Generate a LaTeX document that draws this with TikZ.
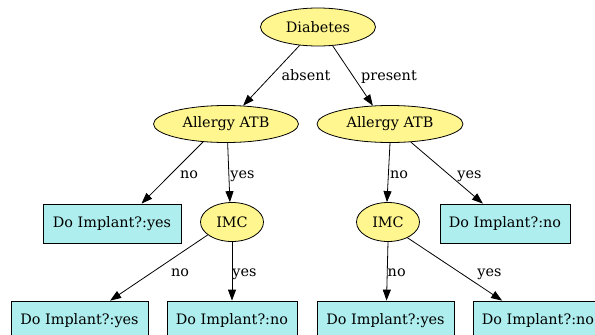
\documentclass[tikz,border=0pt]{standalone}
\usepackage{fontspec}
\setmainfont{DejaVu Serif}
\usetikzlibrary{shapes.geometric,arrows.meta}
\definecolor{khaki}{HTML}{FFF68F}
\definecolor{paleturq}{HTML}{AFEEEE}
\tikzset{
  test/.style={ellipse, draw=black, line width=0.8pt, fill=khaki, inner sep=0pt},
  leaf/.style={rectangle, draw=black, line width=0.8pt, fill=paleturq, inner sep=0pt,
               minimum height=39pt},
  link/.style={draw=black, line width=0.8pt, -{Triangle[length=11pt,width=8pt]}},
  elabel/.style={anchor=base, inner sep=0pt},
}
\begin{document}
\begin{tikzpicture}[x=1pt,y=1pt,font=\fontsize{14.4}{16}\selectfont]
\useasboundingbox (0,0) rectangle (595,-335);
\clip (0,0) rectangle (595,-335);

% decision nodes
\node[test, minimum width=115pt, minimum height=38pt] (diab) at (318,-27) {Diabetes};
\node[test, minimum width=145pt, minimum height=37pt] (atbL) at (226,-124) {Allergy ATB};
\node[test, minimum width=146pt, minimum height=37pt] (atbR) at (390,-124) {Allergy ATB};
\node[test, minimum width=63pt, minimum height=39pt] (imcL) at (232,-222) {IMC};
\node[test, minimum width=63pt, minimum height=39pt] (imcR) at (388,-222) {IMC};

% outcome leaves
\node[leaf, minimum width=138pt] (impL) at (112,-223.5) {Do Implant?:yes};
\node[leaf, minimum width=130pt] (impR) at (505,-223.5) {Do Implant?:no};
\node[leaf, minimum width=137pt] (b1) at (79.5,-320.5) {Do Implant?:yes};
\node[leaf, minimum width=130pt] (b2) at (232,-320.5) {Do Implant?:no};
\node[leaf, minimum width=137pt] (b3) at (385.5,-320.5) {Do Implant?:yes};
\node[leaf, minimum width=130pt] (b4) at (538,-320.5) {Do Implant?:no};

% branches
\draw[link] (diab.225) -- (atbL.47);
\draw[link] (diab.308) -- (atbR.133);
\draw[link] (atbL.218) -- (impL.34);
\draw[link] (atbL.275) -- (imcL.96);
\draw[link] (atbR.270) -- (imcR.93);
\draw[link] (atbR.319) -- (impR.138);
\draw[link] (imcL.208) -- (b1.33);
\draw[link] (imcL.270) -- (b2.90);
\draw[link] (imcR.270) -- (b3.87);
\draw[link] (imcR.321) -- (b4.151);

% branch labels
\node[elabel] (lAbs) at (306,-80) {absent};
\node[elabel] (lPre) at (389,-80) {present};
\node[elabel] (lLno) at (189,-178.5) {no};
\node[elabel] (lLyes) at (242.5,-178.5) {yes};
\node[elabel] (lRno) at (399,-178.5) {no};
\node[elabel] (lRyes) at (469.5,-178.5) {yes};
\node[elabel] (lIno) at (180,-276) {no};
\node[elabel] (lIyes) at (244.5,-276) {yes};
\node[elabel] (lJno) at (396.7,-276) {no};
\node[elabel] (lJyes) at (489.5,-276) {yes};
\end{tikzpicture}
\end{document}
